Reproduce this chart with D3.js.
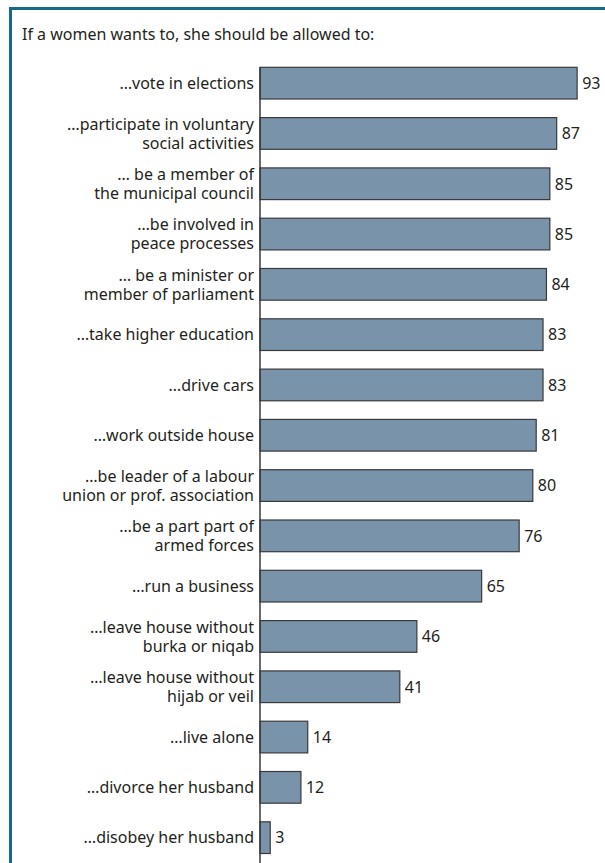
<!DOCTYPE html>
<html>
<head>
<meta charset="utf-8">
<script src="https://cdn.jsdelivr.net/npm/d3@7"></script>
<style>
  html, body { margin: 0; padding: 0; background: #fff; }
  svg { display: block; }
  text { font-family: "Noto Sans", "Open Sans", sans-serif; fill: #231f20; }
</style>
</head>
<body>
<div id="chart"></div>
<script>
// 데이터
const title = 'If a women wants to, she should be allowed to:';
const categories = [
    ['…vote in elections'],
    ['…participate in voluntary', 'social activities'],
    ['… be a member of', 'the municipal council'],
    ['…be involved in', 'peace processes'],
    ['… be a minister or', 'member of parliament'],
    ['…take higher education'],
    ['…drive cars'],
    ['…work outside house'],
    ['…be leader of a labour', 'union or prof. association'],
    ['…be a part part of', 'armed forces'],
    ['…run a business'],
    ['…leave house without', 'burka or niqab'],
    ['…leave house without', 'hijab or veil'],
    ['…live alone'],
    ['…divorce her husband'],
    ['…disobey her husband']
];
const values = [93, 87, 85, 85, 84, 83, 83, 81, 80, 76, 65, 46, 41, 14, 12, 3];

const width = 605;
const height = 863;
const axisX = 260;

const svg = d3.select('#chart')
    .append('svg')
    .attr('width', width)
    .attr('height', height);

// 프레임 (위/왼쪽 테두리)
svg.append('rect')
    .attr('x', 9).attr('y', 7)
    .attr('width', width - 9).attr('height', 3)
    .attr('fill', '#156a89');
svg.append('rect')
    .attr('x', 9).attr('y', 7)
    .attr('width', 3).attr('height', height - 7)
    .attr('fill', '#156a89');

svg.append('text')
    .attr('x', 22)
    .attr('y', 40)
    .style('font-size', '16px')
    .text(title);

const idx = d3.range(values.length);

const x = d3.scaleLinear()
    .domain([0, 100])
    .range([axisX, axisX + 341]);

const y = d3.scaleBand()
    .domain(idx)
    .range([58, 58 + 50.3 * values.length])
    .paddingInner(0.37)
    .paddingOuter(0.185);

// 막대
svg.selectAll('.bar')
    .data(idx)
    .join('rect')
    .attr('class', 'bar')
    .attr('x', x(0))
    .attr('y', i => y(i))
    .attr('width', i => x(values[i]) - x(0))
    .attr('height', y.bandwidth())
    .attr('fill', '#7893aa')
    .attr('stroke', '#3a3a3a')
    .attr('stroke-width', 1.2);

// 값 라벨
svg.selectAll('.val')
    .data(idx)
    .join('text')
    .attr('class', 'val')
    .attr('x', i => x(values[i]) + 5)
    .attr('y', i => y(i) + y.bandwidth() / 2)
    .attr('dy', '0.36em')
    .style('font-size', '16px')
    .text(i => values[i]);

// 카테고리 라벨
const labels = svg.selectAll('.cat')
    .data(idx)
    .join('text')
    .attr('class', 'cat')
    .attr('text-anchor', 'end')
    .style('font-size', '16px');

labels.each(function(i) {
    const lines = categories[i];
    const cy = y(i) + y.bandwidth() / 2;
    const lh = 19;
    d3.select(this).selectAll('tspan')
        .data(lines)
        .join('tspan')
        .attr('x', axisX - 6)
        .attr('y', (d, k) => cy + (k - (lines.length - 1) / 2) * lh)
        .attr('dy', '0.36em')
        .text(d => d);
});

// 세로 축선
svg.append('line')
    .attr('x1', axisX).attr('x2', axisX)
    .attr('y1', y(0)).attr('y2', height)
    .attr('stroke', '#3a3a3a')
    .attr('stroke-width', 1.5);
</script>
</body>
</html>
